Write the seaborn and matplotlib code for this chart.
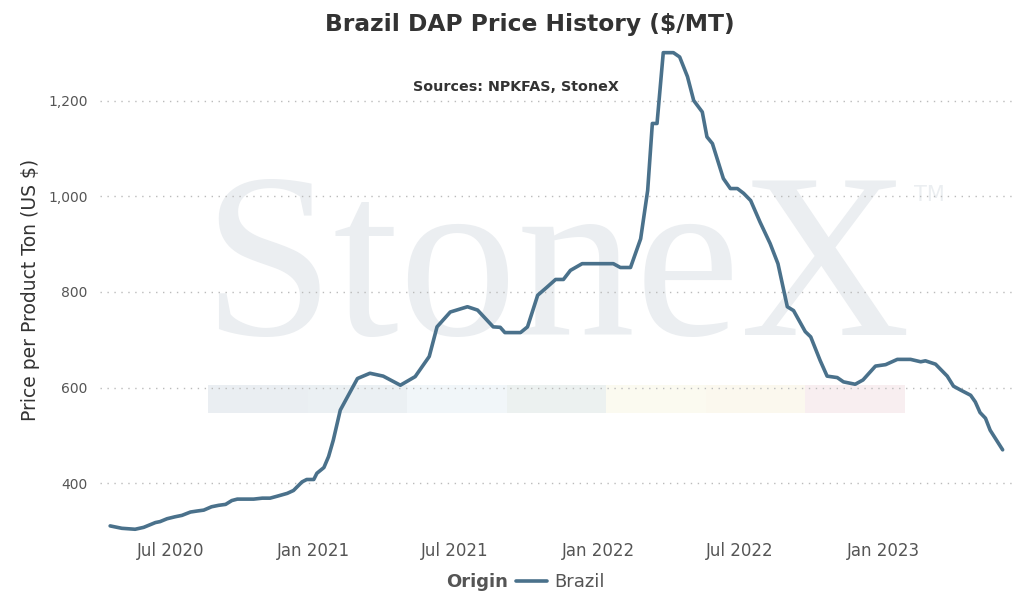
import matplotlib
matplotlib.use("Agg")
import matplotlib.pyplot as plt
import matplotlib.dates as mdates
import matplotlib.ticker as mticker
from matplotlib.patches import Rectangle
from matplotlib.lines import Line2D
import seaborn as sns
import pandas as pd

dates = [
    "2020-04-15", "2020-04-30", "2020-05-17", "2020-05-28", "2020-06-12", "2020-06-18",
    "2020-06-27", "2020-07-07", "2020-07-16", "2020-07-27", "2020-08-04", "2020-08-13",
    "2020-08-23", "2020-09-01", "2020-09-10", "2020-09-18", "2020-09-25", "2020-10-07",
    "2020-10-16", "2020-10-27", "2020-11-06", "2020-11-15", "2020-11-28", "2020-12-06",
    "2020-12-17", "2020-12-23", "2021-01-01", "2021-01-05", "2021-01-14", "2021-01-20",
    "2021-01-26", "2021-02-04", "2021-02-26", "2021-03-14", "2021-03-31", "2021-04-22",
    "2021-05-11", "2021-05-29", "2021-06-08", "2021-06-25", "2021-07-17", "2021-07-30",
    "2021-08-19", "2021-08-28", "2021-09-03", "2021-09-23", "2021-10-02", "2021-10-15",
    "2021-10-27", "2021-11-07", "2021-11-17", "2021-11-26", "2021-12-11", "2022-01-20",
    "2022-01-29", "2022-02-11", "2022-02-24", "2022-03-05", "2022-03-11", "2022-03-17",
    "2022-03-25", "2022-04-07", "2022-04-15", "2022-04-25", "2022-05-03", "2022-05-14",
    "2022-05-20", "2022-05-27", "2022-06-10", "2022-06-19", "2022-06-28", "2022-07-06",
    "2022-07-15", "2022-07-27", "2022-08-09", "2022-08-19", "2022-08-31", "2022-09-08",
    "2022-09-23", "2022-09-30", "2022-10-12", "2022-10-21", "2022-11-03", "2022-11-11",
    "2022-11-26", "2022-12-06", "2022-12-22", "2023-01-04", "2023-01-19", "2023-02-05",
    "2023-02-18", "2023-02-24", "2023-03-09", "2023-03-24", "2023-04-01", "2023-04-10",
    "2023-04-23", "2023-04-29", "2023-05-05", "2023-05-12", "2023-05-18", "2023-06-03",
]
prices = [
    311, 306, 304, 308, 318, 320,
    326, 330, 333, 340, 342, 344,
    351, 354, 356, 364, 367, 367,
    367, 369, 369, 373, 379, 385,
    403, 408, 408, 421, 433, 456,
    490, 553, 619, 630, 624, 605,
    623, 665, 727, 758, 769, 762,
    727, 726, 715, 715, 727, 793,
    810, 826, 826, 845, 859, 859,
    851, 851, 911, 1012, 1152, 1152,
    1300, 1300, 1291, 1250, 1200, 1176,
    1124, 1110, 1037, 1016, 1016, 1006,
    991, 946, 901, 859, 769, 761,
    717, 706, 657, 624, 621, 612,
    607, 616, 645, 648, 659, 659,
    654, 656, 649, 624, 603, 595,
    584, 570, 548, 536, 511, 470,
]
origin = ["Brazil"] * len(prices)
y_ticks = [400, 600, 800, 1000, 1200]
x_tick_dates = ["2020-07-01", "2021-01-01", "2021-07-01", "2022-01-01", "2022-07-01", "2023-01-01"]

df = pd.DataFrame({"Date": pd.to_datetime(dates), "Price": prices, "Origin": origin})

sns.set_theme(style="white")
plt.rcParams["font.family"] = ["DejaVu Sans"]

W, H = 1033, 607
fig = plt.figure(figsize=(W / 100, H / 100), dpi=100)
ax = fig.add_axes([100 / W, 1 - 535 / H, 912 / W, 490 / H])

line_color = "#4a718b"

# watermark (drawn inside the axes, behind everything)
ax.text(556 / W, 1 - 335 / H, "StoneX", transform=fig.transFigure,
        family="Liberation Serif", fontsize=170, color="#ebeef1",
        ha="center", va="baseline", zorder=0, clip_on=False)
ax.text(914 / W, 1 - 201 / H, "TM", transform=fig.transFigure, fontsize=15,
        color="#ebeef1", ha="left", va="baseline", zorder=0, clip_on=False)
band_colors = ["#eaeef2", "#ebf0f3", "#f1f6f9", "#ecf1f0", "#fbfaf0", "#fbf8ee", "#f8eef0"]
bx0, bw = 208, 99.5
for i, c in enumerate(band_colors):
    ax.add_patch(Rectangle(((bx0 + i * bw) / W, 1 - 413 / H), bw / W, 28 / H,
                           transform=fig.transFigure, facecolor=c,
                           edgecolor="none", zorder=0, clip_on=False))

sns.lineplot(data=df, x="Date", y="Price", hue="Origin", palette=[line_color],
             linewidth=2.6, ax=ax, legend=False, zorder=3)

ax.set_ylim(292, 1316)
ax.set_xlim(pd.Timestamp("2020-04-02"), pd.Timestamp("2023-06-15"))
ax.set_yticks(y_ticks)
ax.yaxis.set_major_formatter(mticker.FuncFormatter(lambda v, p: f"{int(v):,}"))
ax.set_xticks(pd.to_datetime(x_tick_dates))
ax.xaxis.set_major_formatter(mdates.DateFormatter("%b %Y"))
ax.tick_params(axis="both", length=0, labelcolor="#555555")
ax.tick_params(axis="y", pad=9, labelsize=10)
ax.tick_params(axis="x", pad=5, labelsize=12)
ax.grid(axis="y", linestyle=(0, (1, 4)), color="#bbbbbb", linewidth=1, zorder=1)
ax.grid(axis="x", visible=False)
for s in ax.spines.values():
    s.set_visible(False)
ax.set_xlabel("")
ax.set_ylabel("Price per Product Ton (US $)", fontsize=13.5, color="#333333", labelpad=6)

fig.text(530 / W, 1 - 24 / H, "Brazil DAP Price History ($/MT)", fontsize=16.8,
         fontweight="bold", color="#333333", ha="center", va="center")
fig.text(516 / W, 1 - 87 / H, "Sources: NPKFAS, StoneX",
         fontsize=10.3, fontweight="bold", color="#333333", ha="center", va="center")

# legend
fig.text(508 / W, 1 - 582 / H, "Origin", fontsize=13, fontweight="bold",
         color="#555555", ha="right", va="center")
handle = Line2D([], [], color=line_color, linewidth=2.6)
leg = fig.legend([handle], ["Brazil"], loc="center left",
                 bbox_to_anchor=(516 / W, 1 - 582 / H), frameon=False,
                 fontsize=13, handlelength=1.7, handletextpad=0.4,
                 borderaxespad=0, borderpad=0)
for t in leg.get_texts():
    t.set_color("#555555")

fig.savefig("out.png", dpi=100)
